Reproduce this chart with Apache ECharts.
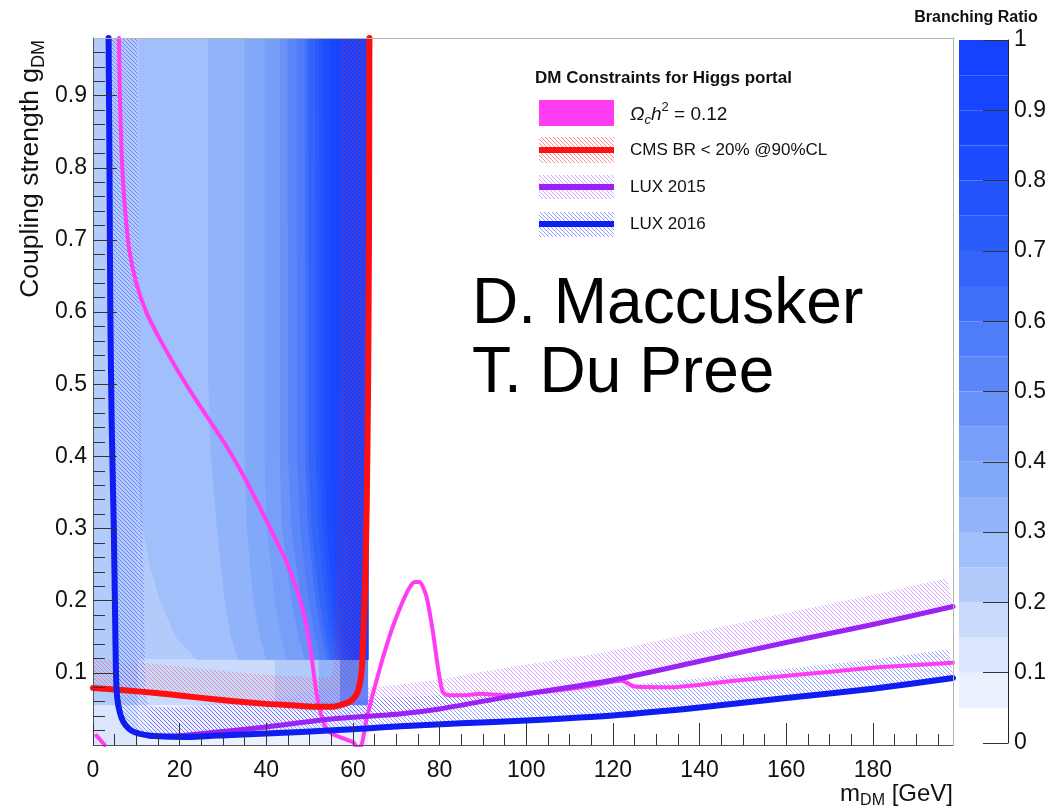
<!DOCTYPE html>
<html>
<head>
<meta charset="utf-8">
<script src="https://cdn.jsdelivr.net/npm/echarts@6/dist/echarts.min.js"></script>
<style>
  html, body { margin: 0; padding: 0; background: #ffffff; }
  #chart { width: 1060px; height: 808px; }
</style>
</head>
<body>
<div id="chart"></div>
<script>
// ---------------------------------------------------------------------------
// Higgs-portal dark matter: coupling vs. DM mass, coloured by H -> inv. BR
// ---------------------------------------------------------------------------

// axis ranges and tick values
const massMin = 0, massMax = 198.5;
const couplingMin = 0, couplingMax = 0.98;
const massTicks = [0, 20, 40, 60, 80, 100, 120, 140, 160, 180];
const massMinorTicks = [0, 5, 10, 15, 20, 25, 30, 35, 40, 45, 50, 55, 60, 65, 70, 75, 80, 85, 90, 95,
  100, 105, 110, 115, 120, 125, 130, 135, 140, 145, 150, 155, 160, 165, 170, 175, 180, 185, 190, 195];
const couplingTicks = [0.1, 0.2, 0.3, 0.4, 0.5, 0.6, 0.7, 0.8, 0.9];
const couplingMinorTicks = [0.02, 0.04, 0.06, 0.08, 0.1, 0.12, 0.14, 0.16, 0.18, 0.2, 0.22, 0.24, 0.26, 0.28,
  0.3, 0.32, 0.34, 0.36, 0.38, 0.4, 0.42, 0.44, 0.46, 0.48, 0.5, 0.52, 0.54, 0.56, 0.58, 0.6, 0.62, 0.64,
  0.66, 0.68, 0.7, 0.72, 0.74, 0.76, 0.78, 0.8, 0.82, 0.84, 0.86, 0.88, 0.9, 0.92, 0.94, 0.96];
const brTicks = [0, 0.1, 0.2, 0.3, 0.4, 0.5, 0.6, 0.7, 0.8, 0.9, 1];

// branching-ratio palette: band edges and one colour per band
const brBandEdges = [0.05, 0.10, 0.15, 0.20, 0.25, 0.30, 0.35, 0.40, 0.45, 0.50,
  0.55, 0.60, 0.65, 0.70, 0.75, 0.80, 0.85, 0.90, 0.95, 1.00];
const brBandColors = ['#eaf0fd', '#dbe6fd', '#c9dafc', '#b3cbfb', '#a1bffa', '#90b3fa', '#82a8f9',
  '#779ff8', '#6993f8', '#5c87f8', '#4f7cf8', '#4070f9', '#3465fa', '#2a5cfb', '#2253fc', '#1b4cfd',
  '#1848fe', '#1745fe', '#1542ff'];

// coarse histogram cells: [mass lo, mass hi, coupling lo, coupling hi, BR]
const brCoarseCells = [
  [0, 10.5, 0, 0.055, 0.12],
  [10.5, 63.5, 0, 0.055, 0.07],
  [0, 10.5, 0.055, 0.98, 0.22],
  [10.5, 63.5, 0.118, 0.98, 0.22],
  [10.5, 42, 0.055, 0.118, 0.17],
  [42, 52, 0.055, 0.118, 0.22],
  [52, 57, 0.055, 0.118, 0.32],
  [57, 63.5, 0.055, 0.118, 0.5]
];

// fine region: BR iso-contours (mass, coupling), each bounding BR >= level
const fineEdgeMass = 63.5;
const fineLowCoupling = 0.118;
const brContourLevels = [0.25, 0.30, 0.35, 0.40, 0.45, 0.50, 0.55, 0.60, 0.65, 0.70, 0.75, 0.80, 0.85, 0.90, 0.95];
const brContours = [
  [[10.5, 0.98], [10.5, 0.36], [11.5, 0.30], [13, 0.25], [15.5, 0.20], [19, 0.15], [24, 0.118]],
  [[26.5, 0.98], [26.6, 0.5], [27.2, 0.4], [28.6, 0.3], [30.4, 0.2], [31.8, 0.15], [33.5, 0.118]],
  [[35, 0.98], [35, 0.4], [35.5, 0.3], [37, 0.2], [38.5, 0.15], [40, 0.118]],
  [[39.6, 0.98], [39.6, 0.4], [40.1, 0.3], [42, 0.2], [43.4, 0.15], [44.8, 0.118]],
  [[43.1, 0.98], [43.1, 0.4], [43.6, 0.3], [45.8, 0.2], [47.5, 0.15], [48.8, 0.118]],
  [[44.9, 0.98], [45, 0.4], [45.8, 0.3], [48, 0.2], [49.8, 0.15], [51.2, 0.118]],
  [[47, 0.98], [47.1, 0.4], [47.8, 0.3], [49.8, 0.2], [51.3, 0.15], [52.6, 0.118]],
  [[48.9, 0.98], [49, 0.4], [49.6, 0.3], [51.4, 0.2], [52.8, 0.15], [54, 0.118]],
  [[49.6, 0.98], [49.8, 0.4], [50.4, 0.3], [52.3, 0.2], [53.7, 0.15], [54.8, 0.118]],
  [[51.2, 0.98], [51.4, 0.4], [52, 0.3], [53.6, 0.2], [54.9, 0.15], [56, 0.118]],
  [[52.2, 0.98], [52.4, 0.4], [53, 0.3], [54.6, 0.2], [55.8, 0.15], [56.8, 0.118]],
  [[53.2, 0.98], [53.4, 0.4], [54, 0.3], [55.5, 0.2], [56.7, 0.15], [57.6, 0.118]],
  [[54.6, 0.98], [54.8, 0.4], [55.3, 0.3], [56.6, 0.2], [57.6, 0.15], [58.4, 0.118]],
  [[56, 0.98], [56.2, 0.4], [56.7, 0.3], [57.8, 0.2], [58.6, 0.15], [59.2, 0.118]],
  [[58, 0.98], [58.1, 0.4], [58.5, 0.3], [59.3, 0.2], [59.9, 0.15], [60.4, 0.118]]
];

// relic density curve Omega_c h^2 = 0.12
const relicCurve = [[6.0, 0.98], [6.2, 0.9], [6.6, 0.82], [7.3, 0.75], [8.4, 0.685], [10, 0.64],
  [12.3, 0.6], [15.2, 0.565], [18.5, 0.53], [22, 0.495], [26, 0.458], [30.2, 0.42], [34.3, 0.378],
  [38.3, 0.332], [41.9, 0.288], [44.6, 0.255], [47.2, 0.212], [49.2, 0.168], [50.5, 0.12], [51.5, 0.075],
  [52.4, 0.048], [53.5, 0.027], [55, 0.016], [57, 0.011], [58.7, 0.007], [60.2, 0.003], [61, -0.004],
  [62, 0.0], [63.1, 0.035], [66.1, 0.104], [69.2, 0.164], [72.4, 0.211], [74.2, 0.226], [75.4, 0.226],
  [77, 0.205], [78.5, 0.155], [79.7, 0.104], [80.7, 0.074], [82, 0.069], [86, 0.069], [89.3, 0.071],
  [95, 0.069], [105, 0.074], [115, 0.082], [122, 0.089], [125, 0.081], [133.6, 0.08], [148, 0.089],
  [167.6, 0.1], [182, 0.108], [198.5, 0.114]];
const relicCurveLow = [[0.8, 0.013], [1.7, 0.007], [2.7, 0.0]];

// CMS invisible BR < 20% @ 90% CL
const cmsLimit = [[0, 0.079], [5, 0.077], [11, 0.074], [18, 0.07], [24, 0.066], [32, 0.061], [40, 0.057],
  [46, 0.055], [51, 0.053], [55, 0.053], [57.5, 0.056], [59.5, 0.061], [60.8, 0.07], [61.6, 0.085],
  [62.1, 0.11], [62.4, 0.15], [62.8, 0.22], [63.2, 0.34], [63.5, 0.5], [63.7, 0.7], [63.8, 0.98]];

// LUX 2015
const lux2015 = [[13, 0.012], [20, 0.013], [27, 0.017], [40, 0.025], [55, 0.036], [70.6, 0.043], [80, 0.05],
  [95, 0.066], [110, 0.08], [120, 0.09], [140, 0.116], [160, 0.142], [180, 0.167], [198.5, 0.192]];

// LUX 2016
const lux2016 = [[3.6, 0.98], [3.8, 0.8], [4.0, 0.6], [4.3, 0.45], [4.8, 0.3], [5.1, 0.18], [5.3, 0.1],
  [5.6, 0.065], [6.2, 0.045], [7, 0.032], [8.2, 0.023], [9.5, 0.018], [12, 0.014], [15, 0.012], [21, 0.011],
  [32, 0.014], [48, 0.018], [63, 0.023], [71, 0.026], [85, 0.03], [100, 0.034], [120, 0.041], [140, 0.052],
  [160, 0.065], [180, 0.078], [198.5, 0.093]];

// ---------------------------------------------------------------------------
const FONT = '"Liberation Sans", Arial, Helvetica, sans-serif';
const TEXT = '#111111';
const C_RELIC = '#ff3cf2', C_CMS = '#ff1010', C_LUX15 = '#9a22f5', C_LUX16 = '#0f1cf2';
const BAND_PX = 29;

function hatchCanvas(color, step) {
  const c = document.createElement('canvas');
  c.width = step; c.height = step;
  const g = c.getContext('2d');
  g.strokeStyle = color; g.lineWidth = 1;
  g.beginPath();
  for (let k = -1; k <= 1; k++) { g.moveTo(k * step, 0); g.lineTo(k * step + step, step); }
  g.stroke();
  return c;
}
const hatchCms = hatchCanvas('rgba(255,40,70,0.42)', 4);
const hatchLux15 = hatchCanvas('rgba(185,100,255,0.6)', 4);
const hatchLux16 = hatchCanvas('rgba(60,80,255,0.55)', 4);
const hatchCmsKey = hatchCanvas('rgba(255,40,70,0.55)', 4);

function bandColor(br) {
  for (let i = 0; i < brBandColors.length; i++) {
    if (br >= brBandEdges[i] - 1e-9 && br < brBandEdges[i + 1] - 1e-9) return brBandColors[i];
  }
  return br < brBandEdges[0] ? '#ffffff' : brBandColors[brBandColors.length - 1];
}

// heat shapes: coarse cells first, then contour polygons painted in ascending BR
const heatShapes = [];
brCoarseCells.forEach(c => heatShapes.push({
  pts: [[c[0], c[2]], [c[1], c[2]], [c[1], c[3]], [c[0], c[3]]], br: c[4]
}));
brContourLevels.forEach((lv, i) => heatShapes.push({
  pts: brContours[i].concat([[fineEdgeMass, fineLowCoupling], [fineEdgeMass, couplingMax]]),
  br: lv + 0.025
}));

// exclusion band: the line offset to its left-hand side in screen space
function offsetBand(px, w) {
  const n = px.length, off = [];
  for (let i = 0; i < n; i++) {
    const a = px[Math.max(0, i - 1)], b = px[Math.min(n - 1, i + 1)];
    let dx = b[0] - a[0], dy = b[1] - a[1];
    const L = Math.hypot(dx, dy) || 1; dx /= L; dy /= L;
    off.push([px[i][0] + dy * w, px[i][1] - dx * w]);
  }
  return px.concat(off.reverse());
}

function bandSeries(line, pattern, z) {
  return {
    type: 'custom', xAxisIndex: 0, yAxisIndex: 0, z: z, clip: true, silent: true,
    data: [line[0]],
    renderItem: (params, api) => ({
      type: 'polygon',
      shape: { points: offsetBand(line.map(p => api.coord(p)), BAND_PX) },
      style: { fill: { image: pattern, repeat: 'repeat' } }
    })
  };
}

function lineSeries(data, color, width, z, smooth) {
  return {
    type: 'line', xAxisIndex: 0, yAxisIndex: 0, data: data, z: z, clip: true, silent: true,
    showSymbol: false, symbol: 'none', smooth: smooth || false,
    lineStyle: { color: color, width: width, cap: 'round', join: 'round' },
    emphasis: { disabled: true }
  };
}

// text runs with sub/superscripts laid out left to right
const measureCtx = document.createElement('canvas').getContext('2d');
function fontOf(p) { return (p.italic ? 'italic ' : '') + (p.bold ? 'bold ' : '') + p.size + 'px ' + FONT; }
function textRun(parts, alignRight) {
  let total = 0;
  parts.forEach(p => { measureCtx.font = fontOf(p); p.w = measureCtx.measureText(p.t).width; total += p.w; });
  let x = alignRight ? -total : 0;
  return parts.map(p => {
    const el = { type: 'text', x: x, y: p.dy || 0,
      style: { text: p.t, font: fontOf(p), fill: TEXT, align: 'left', verticalAlign: 'middle' } };
    x += p.w;
    return el;
  });
}

const graphics = [
  // axis titles
  { type: 'group', x: 31, y: 40, rotation: Math.PI / 2,
    children: textRun([{ t: 'Coupling strength g', size: 26.5 }, { t: 'DM', size: 18, dy: 8 }], true) },
  { type: 'group', x: 953, y: 794,
    children: textRun([{ t: 'm', size: 24 }, { t: 'DM', size: 16, dy: 7 }, { t: ' [GeV]', size: 24 }], true) },
  { type: 'text', x: 976, y: 18,
    style: { text: 'Branching Ratio', font: 'bold 16px ' + FONT, fill: TEXT, align: 'center', verticalAlign: 'middle' } },
  // legend
  { type: 'text', x: 535, y: 78,
    style: { text: 'DM Constraints for Higgs portal', font: 'bold 17px ' + FONT, fill: TEXT, align: 'left', verticalAlign: 'middle' } },
  { type: 'rect', shape: { x: 539, y: 100, width: 75, height: 26 }, style: { fill: C_RELIC } },
  { type: 'group', x: 630, y: 115,
    children: textRun([{ t: 'Ω', size: 19, italic: true }, { t: 'c', size: 13, italic: true, dy: 5 },
      { t: 'h', size: 19, italic: true }, { t: '2', size: 13, dy: -8 }, { t: ' = 0.12', size: 19 }], false) },
  { type: 'rect', shape: { x: 539, y: 137, width: 75, height: 26 }, style: { fill: { image: hatchCmsKey, repeat: 'repeat' } } },
  { type: 'rect', shape: { x: 539, y: 147, width: 75, height: 6 }, style: { fill: C_CMS } },
  { type: 'text', x: 630, y: 150,
    style: { text: 'CMS BR < 20% @90%CL', font: '17px ' + FONT, fill: TEXT, align: 'left', verticalAlign: 'middle' } },
  { type: 'rect', shape: { x: 539, y: 175, width: 75, height: 24 }, style: { fill: { image: hatchLux15, repeat: 'repeat' } } },
  { type: 'rect', shape: { x: 539, y: 184, width: 75, height: 6 }, style: { fill: C_LUX15 } },
  { type: 'text', x: 630, y: 187,
    style: { text: 'LUX 2015', font: '17px ' + FONT, fill: TEXT, align: 'left', verticalAlign: 'middle' } },
  { type: 'rect', shape: { x: 539, y: 212, width: 75, height: 25 }, style: { fill: { image: hatchLux16, repeat: 'repeat' } } },
  { type: 'rect', shape: { x: 539, y: 221, width: 75, height: 6 }, style: { fill: C_LUX16 } },
  { type: 'text', x: 630, y: 224,
    style: { text: 'LUX 2016', font: '17px ' + FONT, fill: TEXT, align: 'left', verticalAlign: 'middle' } },
  // authors
  { type: 'text', x: 472, y: 305,
    style: { text: 'D. Maccusker', font: '64px ' + FONT, fill: '#000000', align: 'left', verticalAlign: 'middle' } },
  { type: 'text', x: 472, y: 374,
    style: { text: 'T. Du Pree', font: '64px ' + FONT, fill: '#000000', align: 'left', verticalAlign: 'middle' } }
];

const tickLine = { color: '#333333', width: 1 };
const labelStyle = { fontSize: 23, color: TEXT, fontFamily: FONT };
const fmt1 = v => (v === 0 || v === 1) ? String(v) : v.toFixed(1);
const noZero = (style) => ({ onZero: false, lineStyle: style });

const option = {
  animation: false,
  backgroundColor: '#ffffff',
  grid: [
    { left: 93, top: 38, width: 860, height: 707, show: false },
    { left: 959, top: 40, width: 49, height: 703, show: false }
  ],
  xAxis: [
    { gridIndex: 0, type: 'value', min: massMin, max: massMax, position: 'bottom', z: 10,
      axisLine: noZero({ color: '#555555', width: 1 }),
      axisTick: { inside: true, length: 22, lineStyle: tickLine, customValues: massTicks },
      axisLabel: Object.assign({ margin: 14, customValues: massTicks }, labelStyle),
      splitLine: { show: false } },
    { gridIndex: 0, type: 'value', min: massMin, max: massMax, position: 'bottom', z: 10,
      axisLine: { show: false, onZero: false },
      axisTick: { inside: true, length: 11, lineStyle: tickLine, customValues: massMinorTicks },
      axisLabel: { show: false }, splitLine: { show: false } },
    { gridIndex: 0, type: 'value', min: massMin, max: massMax, position: 'top', z: 10,
      axisLine: noZero({ color: '#b4b4b4', width: 1 }),
      axisTick: { show: false }, axisLabel: { show: false }, splitLine: { show: false } },
    { gridIndex: 1, type: 'value', min: 0, max: 1, show: false, axisLine: { onZero: false } }
  ],
  yAxis: [
    { gridIndex: 0, type: 'value', min: couplingMin, max: couplingMax, position: 'left', z: 10,
      axisLine: noZero({ color: '#555555', width: 1 }),
      axisTick: { inside: true, length: 24, lineStyle: tickLine, customValues: couplingTicks },
      axisLabel: Object.assign({ margin: 6, customValues: couplingTicks, formatter: fmt1 }, labelStyle),
      splitLine: { show: false } },
    { gridIndex: 0, type: 'value', min: couplingMin, max: couplingMax, position: 'left', z: 10,
      axisLine: { show: false, onZero: false },
      axisTick: { inside: true, length: 12, lineStyle: tickLine, customValues: couplingMinorTicks },
      axisLabel: { show: false }, splitLine: { show: false } },
    { gridIndex: 0, type: 'value', min: couplingMin, max: couplingMax, position: 'right', z: 10,
      axisLine: noZero({ color: '#b4b4b4', width: 1 }),
      axisTick: { show: false }, axisLabel: { show: false }, splitLine: { show: false } },
    { gridIndex: 1, type: 'value', min: 0, max: 1, position: 'right', z: 10,
      axisLine: noZero({ color: '#222222', width: 1 }),
      axisTick: { inside: true, length: 25, lineStyle: tickLine, customValues: brTicks },
      axisLabel: Object.assign({ margin: 6, customValues: brTicks, formatter: fmt1 }, labelStyle),
      splitLine: { show: false } }
  ],
  graphic: { elements: graphics },
  series: [
    // branching-ratio map
    { type: 'custom', xAxisIndex: 0, yAxisIndex: 0, z: 1, clip: true, silent: true,
      data: heatShapes.map(s => s.pts[0]),
      renderItem: (params, api) => {
        const s = heatShapes[params.dataIndex];
        return { type: 'polygon', shape: { points: s.pts.map(p => api.coord(p)) },
          style: { fill: bandColor(s.br), stroke: null } };
      } },
    // colour scale
    { type: 'custom', xAxisIndex: 3, yAxisIndex: 3, z: 1, silent: true,
      data: brBandColors.map((c, i) => [0.5, brBandEdges[i]]),
      renderItem: (params, api) => {
        const i = params.dataIndex;
        const p0 = api.coord([0, brBandEdges[i + 1]]), p1 = api.coord([1, brBandEdges[i]]);
        return { type: 'rect', shape: { x: p0[0], y: p0[1], width: p1[0] - p0[0], height: p1[1] - p0[1] },
          style: { fill: brBandColors[i] } };
      } },
    bandSeries(cmsLimit, hatchCms, 2),
    bandSeries(lux2015, hatchLux15, 2),
    bandSeries(lux2016, hatchLux16, 2),
    lineSeries(relicCurve, C_RELIC, 4, 3, 0.2),
    lineSeries(relicCurveLow, C_RELIC, 4, 3),
    lineSeries(cmsLimit, C_CMS, 6, 4, 0.2),
    lineSeries(lux2015, C_LUX15, 5, 5, 0.2),
    lineSeries(lux2016, C_LUX16, 6, 6, 0.2)
  ]
};

const chart = echarts.init(document.getElementById('chart'), null, { renderer: 'canvas' });
chart.setOption(option);
</script>
</body>
</html>
